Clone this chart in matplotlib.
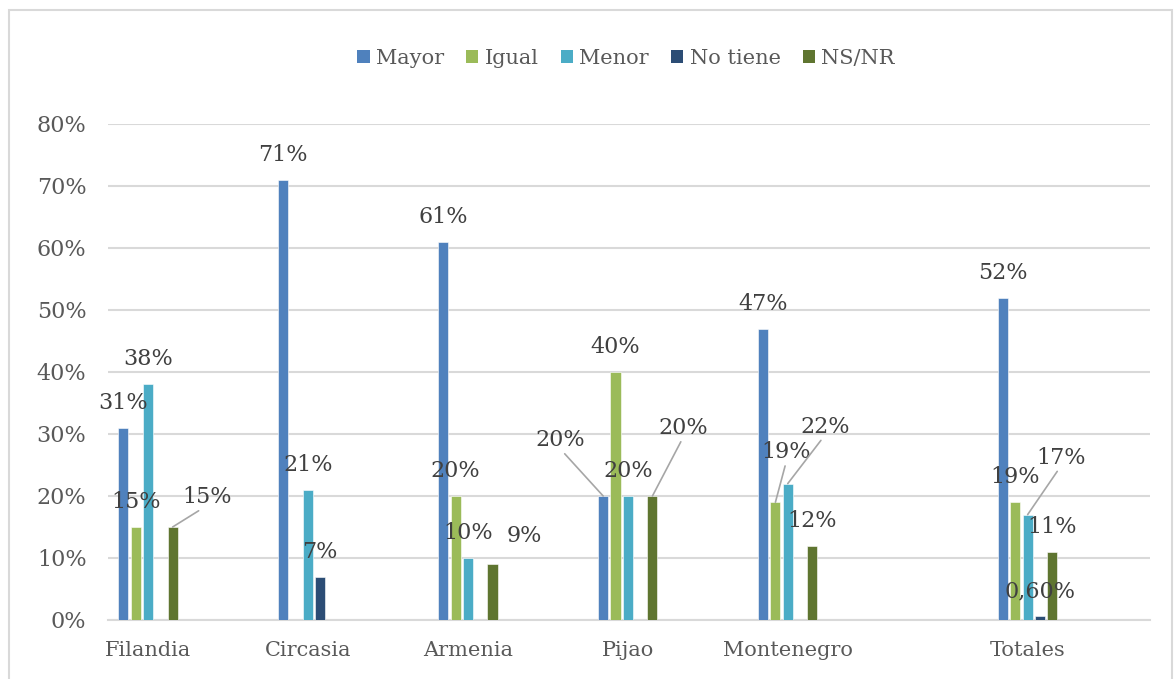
# -*- coding: utf-8 -*-
# import necessary libraries
import numpy as np
import matplotlib.pyplot as plt
from matplotlib.patches import Rectangle, Patch

#%% Data (percent). nan = no bar drawn
municipios = ['Filandia', 'Circasia', 'Armenia', 'Pijao', 'Montenegro', 'Totales']
series     = ['Mayor', 'Igual', 'Menor', 'No tiene', 'NS/NR']
Mayor      = [31, 71, 61, 20, 47, 52]
Igual      = [15, np.nan, 20, 40, 19, 19]
Menor      = [38, 21, 10, 20, 22, 17]
NoTiene    = [np.nan, 7, np.nan, np.nan, np.nan, 0.6]
NSNR       = [15, np.nan, 9, 20, 12, 11]
yticks     = [0, 10, 20, 30, 40, 50, 60, 70, 80]

valores = [Mayor, Igual, Menor, NoTiene, NSNR]
colores = ['#4F81BD', '#9BBB59', '#4BACC6', '#2C4D75', '#5F7530']

#%% layout stuff
# Totales sits a bit further out than the other groups
xpos   = np.array([0, 1, 2, 3, 4, 5.5])
paso   = 0.077
ancho  = 0.063
txtcol = '#404040'
ejecol = '#595959'
fuente = 'DejaVu Serif'
fs     = 16   # numbers
fs_cat = 15   # words

# label offsets in pixels (dx, dy) for the labels Excel moved, plus leader line yes/no
# key = (series index, category index)
mover = {(4, 0): (34, 30, True),
         (4, 2): (32, 28, False),
         (0, 3): (-43, 56, True),
         (4, 3): (31, 68, True),
         (1, 4): (11, 50, True),
         (2, 4): (37, 57, True),
         (2, 5): (33, 57, True)}

#%% Plot
fig = plt.figure(figsize=(11.74, 6.79), dpi=100)
ax = fig.add_axes([108/1174, 59/679, (1150-108)/1174, (555-59)/679])

for i, (nom, vals) in enumerate(zip(series, valores)):
    vals = np.array(vals, dtype=float)
    xs = xpos + (i-2)*paso
    ok = ~np.isnan(vals)
    ax.bar(xs[ok], vals[ok], width=ancho, color=colores[i], edgecolor='white',
           linewidth=0.4, zorder=3)
    for j in np.where(ok)[0]:
        v = vals[j]
        if v == int(v):
            lab = '{:.0f}%'.format(v)
        else:
            lab = '{:.2f}%'.format(v).replace('.', ',')
        dx, dy, linea = mover.get((i, j), (0, 25, False))
        arrow = None
        if linea:
            arrow = dict(arrowstyle='-', color='#A6A6A6', lw=1.2, shrinkA=0, shrinkB=0,
                         relpos=(0.5, 0.1))
        ax.annotate(lab, (xs[j], v), xytext=(dx, dy), textcoords='offset pixels',
                    ha='center', va='center', fontsize=fs, family=fuente, color=txtcol,
                    arrowprops=arrow, zorder=4)

ax.set_xlim(-0.25, 6.265)
ax.set_ylim(0, 80)
ax.set_yticks(yticks)
ax.set_yticklabels(['{}%'.format(t) for t in yticks], family=fuente, fontsize=fs, color=ejecol)
ax.set_xticks(xpos)
ax.set_xticklabels(municipios, family=fuente, fontsize=fs_cat, color=ejecol)
ax.tick_params(axis='both', length=0)
ax.tick_params(axis='y', pad=15.5)
ax.tick_params(axis='x', pad=15)
ax.grid(axis='y', color='#D9D9D9', lw=1.5, zorder=0)
for s in ['top', 'right', 'left']:
    ax.spines[s].set_visible(False)
ax.spines['bottom'].set_color('#D9D9D9')
ax.spines['bottom'].set_linewidth(1.5)

# legend on top
handles = [Patch(facecolor=c, label=n) for c, n in zip(colores, series)]
leg = fig.legend(handles=handles, loc='center', bbox_to_anchor=(626/1174, 1-58/679), ncol=5,
                 frameon=False, handlelength=0.6, handleheight=0.6, handletextpad=0.3,
                 columnspacing=1.05, prop={'family': fuente, 'size': fs_cat})
for t in leg.get_texts():
    t.set_color(ejecol)

# light border round the chart like the Excel export
fig.patches.append(Rectangle((9/1174, -0.02), (1172-9)/1174, 1.02-10/679, fill=False,
                             edgecolor='#D9D9D9', lw=1.5, transform=fig.transFigure))

fig.savefig('out.png', dpi=100)
